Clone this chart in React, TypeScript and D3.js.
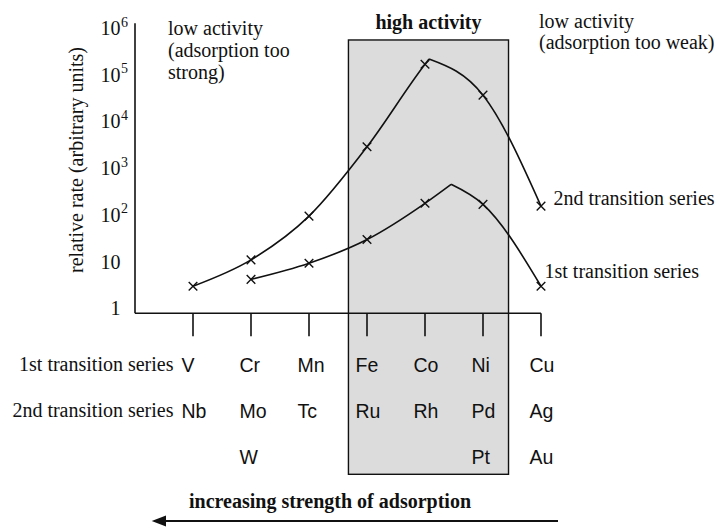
import React from "react";
import * as d3 from "d3";

// ---------- data ----------
const firstSeriesElements = ["V", "Cr", "Mn", "Fe", "Co", "Ni", "Cu"];
const secondSeriesElements = ["Nb", "Mo", "Tc", "Ru", "Rh", "Pd", "Ag"];
const thirdRowElements = ["", "W", "", "", "", "Pt", "Au"];

// relative rates (arbitrary units); null = no measurement
const firstSeriesRates: (number | null)[] = [null, 4.2, 9.3, 30, 179, 170, 3.0];
const secondSeriesRates: (number | null)[] = [3, 11, 95, 2900, 1.7e5, 3.7e4, 156];

// position (in element-column units) and rate of each curve's maximum
const firstSeriesPeak = { pos: 4.45, rate: 456 };
const secondSeriesPeak = { pos: 4.07, rate: 2.2e5 };

const yTickExponents = [0, 1, 2, 3, 4, 5, 6];

// high-activity band, in element-column units
const highActivityRange = [2.68, 5.44];
const highActivityTopRate = Math.pow(10, 5.75);

const rowLabels = ["1st transition series", "2nd transition series"];

// ---------- layout ----------
const W = 721;
const H = 527;
const SERIF = "'Liberation Serif', 'Times New Roman', serif";
const SANS = "'Liberation Sans', Arial, sans-serif";
const INK = "#111";

const x = d3.scaleLinear().domain([0, 6]).range([193, 541]);
const y = d3.scaleLog().domain([1, 1e6]).range([308.5, 28.3]);

const axisX0 = 135;
const axisY = y(1) + 4.8;
const axisTop = 23.3;
const tickLen = 23;
const rowBaselines = [372, 418, 464];
const bandBottom = 474.3;

type P = { pos: number; rate: number };

function split(rates: (number | null)[], peak: P): [P[], P[], P[]] {
  const pts: P[] = [];
  rates.forEach((r, i) => {
    if (r != null) pts.push({ pos: i, rate: r });
  });
  const rising = pts.filter((p) => p.pos < peak.pos).concat([peak]);
  const falling = [peak].concat(pts.filter((p) => p.pos > peak.pos));
  return [rising, falling, pts];
}

const lineGen = d3
  .line<P>()
  .x((d) => x(d.pos))
  .y((d) => y(d.rate))
  .curve(d3.curveMonotoneX);

function Cross({ cx, cy }: { cx: number; cy: number }) {
  const s = 4.3;
  return (
    <path
      d={`M${cx - s},${cy - s}L${cx + s},${cy + s}M${cx - s},${cy + s}L${cx + s},${cy - s}`}
      stroke={INK}
      strokeWidth={1.4}
      fill="none"
    />
  );
}

export default function App() {
  const series = [
    split(firstSeriesRates, firstSeriesPeak),
    split(secondSeriesRates, secondSeriesPeak),
  ];
  const bandX0 = x(highActivityRange[0]);
  const bandX1 = x(highActivityRange[1]);
  const bandTop = y(highActivityTopRate);

  return (
    <svg
      width={W}
      height={H}
      style={{ position: "absolute", left: 0, top: 0, background: "#fff" }}
    >
      {/* high activity band */}
      <rect
        x={bandX0}
        y={bandTop}
        width={bandX1 - bandX0}
        height={bandBottom - bandTop}
        fill="#dcdcdc"
        stroke={INK}
        strokeWidth={1.4}
      />

      {/* axes */}
      <line x1={axisX0} x2={axisX0} y1={axisTop} y2={axisY} stroke={INK} strokeWidth={1.6} />
      <line x1={axisX0} x2={x(6)} y1={axisY} y2={axisY} stroke={INK} strokeWidth={1.6} />
      {firstSeriesElements.map((_, i) => (
        <line
          key={"t" + i}
          x1={x(i)}
          x2={x(i)}
          y1={axisY}
          y2={axisY + tickLen}
          stroke={INK}
          strokeWidth={1.6}
        />
      ))}

      {/* y tick labels */}
      {yTickExponents.map((e) => {
        const v = Math.pow(10, e);
        const base = y(v) + 6.7;
        return (
          <g key={"y" + e} fontFamily={SERIF} fill={INK}>
            <text x={120.5} y={base} fontSize={20} textAnchor="end">
              {e === 0 ? "1" : "10"}
            </text>
            {e >= 2 && (
              <text x={121} y={base - 8.5} fontSize={14}>
                {String(e)}
              </text>
            )}
          </g>
        );
      })}

      {/* y axis title */}
      <text
        transform={`translate(83,160) rotate(-90)`}
        textAnchor="middle"
        fontFamily={SERIF}
        fontSize={20}
        fill={INK}
      >
        relative rate (arbitrary units)
      </text>

      {/* curves */}
      {series.map(([rising, falling, pts], si) => (
        <g key={"s" + si}>
          <path d={lineGen(rising) || ""} fill="none" stroke={INK} strokeWidth={1.6} />
          <path d={lineGen(falling) || ""} fill="none" stroke={INK} strokeWidth={1.6} />
          {pts.map((p, i) => (
            <Cross key={i} cx={x(p.pos)} cy={y(p.rate)} />
          ))}
        </g>
      ))}

      {/* annotations */}
      <g fontFamily={SERIF} fontSize={20} fill={INK}>
        <text x={168} y={35}>low activity</text>
        <text x={168} y={57}>(adsorption too</text>
        <text x={168} y={79}>strong)</text>
        <text x={539} y={27.5}>low activity</text>
        <text x={539} y={48.5}>(adsorption too weak)</text>
        <text x={(bandX0 + bandX1) / 2} y={28.5} textAnchor="middle" fontWeight="bold">
          high activity
        </text>
        <text x={x(6) + 12.5} y={y(secondSeriesRates[6] as number) - 1}>2nd transition series</text>
        <text x={x(6) + 3.5} y={y(firstSeriesRates[6] as number) - 8}>1st transition series</text>
      </g>

      {/* element table */}
      <g fontFamily={SERIF} fontSize={20} fill={INK} textAnchor="end">
        {rowLabels.map((t, i) => (
          <text key={t} x={173.5} y={rowBaselines[i] - 1}>
            {t}
          </text>
        ))}
      </g>
      <g fontFamily={SANS} fontSize={19.5} fill={INK}>
        {[firstSeriesElements, secondSeriesElements, thirdRowElements].map((row, ri) =>
          row.map((el, i) =>
            el ? (
              <text key={ri + "-" + i} x={x(i) - 11.5} y={rowBaselines[ri]}>
                {el}
              </text>
            ) : null
          )
        )}
      </g>

      {/* adsorption arrow */}
      <text
        x={330}
        y={508}
        textAnchor="middle"
        fontFamily={SERIF}
        fontWeight="bold"
        fontSize={20}
        fill={INK}
      >
        increasing strength of adsorption
      </text>
      <line x1={558} x2={162} y1={521} y2={521} stroke={INK} strokeWidth={2} />
      <path d="M151.7,521L166,515.5L166,526.5Z" fill={INK} />
    </svg>
  );
}
